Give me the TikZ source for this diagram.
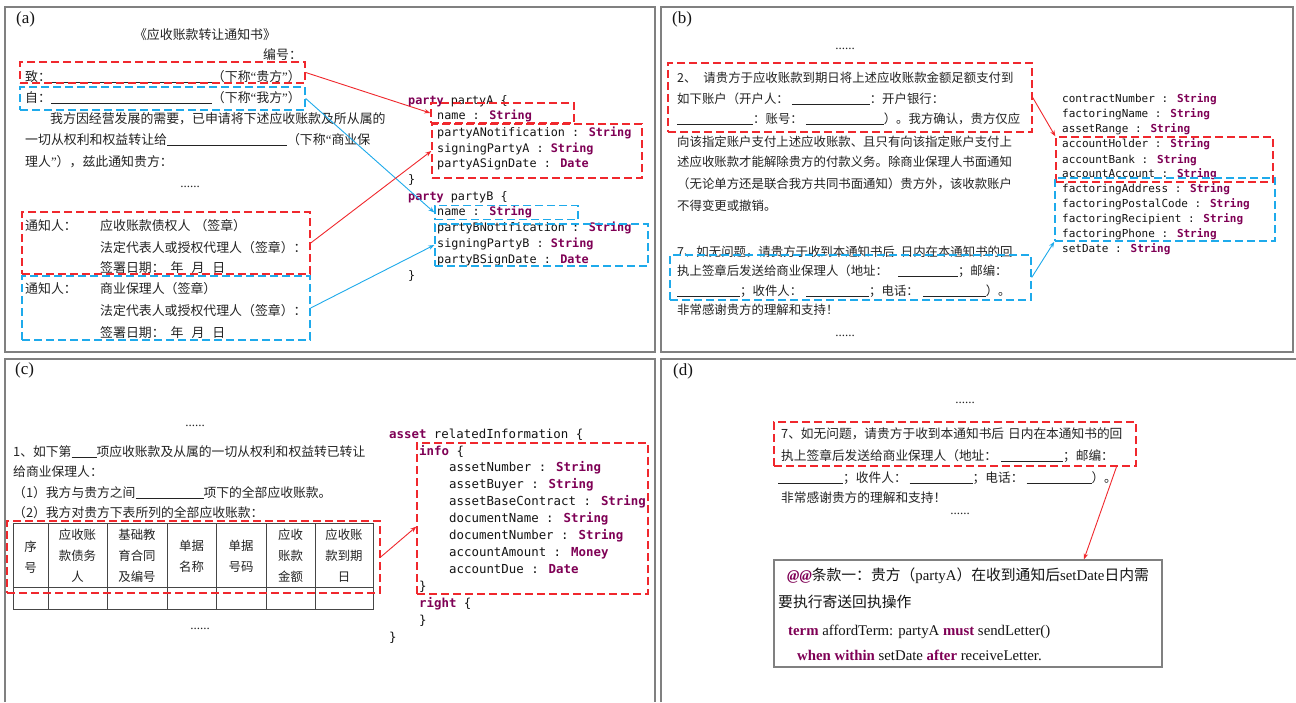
\documentclass[tikz,border=0pt]{standalone}
\usepackage{fontspec}
\setmainfont{Liberation Serif}
\newfontfamily\cjk{Noto Sans CJK SC}
\newfontfamily\monof{DejaVu Sans Mono}
\usetikzlibrary{arrows.meta}
\definecolor{myred}{RGB}{240,40,45}
\definecolor{myblue}{RGB}{30,170,235}
\definecolor{kwpurple}{RGB}{127,0,85}
\definecolor{panelgray}{RGB}{128,128,128}
\definecolor{txt}{RGB}{35,35,35}
\definecolor{codeblack}{RGB}{20,20,20}
\definecolor{tblgray}{RGB}{70,70,70}
\newcommand\kw[1]{\textcolor{kwpurple}{\bfseries #1}}
\newcommand\blank[1]{\rule[-1.5pt]{#1}{0.6pt}}
\newcommand\myqo{{\rmfamily “}}
\newcommand\myqc{{\rmfamily ”}}
\begin{document}
\begin{tikzpicture}[x=1pt,y=-1pt,
  panel/.style={draw=panelgray,line width=1.1pt},
  wh/.style 2 args={minimum width=#1pt,minimum height=#2pt},
  rbox/.style={draw=myred,line width=1.4pt,dash pattern=on 8pt off 4pt,inner sep=0pt,rectangle},
  bbox/.style={draw=myblue,line width=1.4pt,dash pattern=on 8pt off 4pt,inner sep=0pt,rectangle},
  rarr/.style={draw=myred,line width=0.9pt,-{Stealth[length=6pt,width=4.5pt]}},
  barr/.style={draw=myblue,line width=0.9pt,-{Stealth[length=6pt,width=4.5pt]}},
  cnA/.style={font=\cjk\fontsize{12.9}{21}\selectfont,text=txt,anchor=base west,inner sep=0pt},
  cnB/.style={font=\cjk\fontsize{12.4}{21}\selectfont,text=txt,anchor=base west,inner sep=0pt},
  cnC/.style={font=\cjk\fontsize{12.8}{21}\selectfont,text=txt,anchor=base west,inner sep=0pt},
  cnD/.style={font=\cjk\fontsize{12.7}{21}\selectfont,text=txt,anchor=base west,inner sep=0pt},
  th/.style={font=\cjk\fontsize{12.4}{21}\selectfont,text=txt,align=center,inner sep=0pt},
  codeA/.style={font=\monof\fontsize{11.8}{16}\selectfont,text=codeblack,anchor=base west,inner sep=0pt},
  codeB/.style={font=\monof\fontsize{11}{15}\selectfont,text=codeblack,anchor=base west,inner sep=0pt},
  codeC/.style={font=\monof\fontsize{12.4}{17}\selectfont,text=codeblack,anchor=base west,inner sep=0pt},
  dtext/.style={font=\rmfamily\fontsize{14.8}{18}\selectfont,text=codeblack,anchor=base west,inner sep=0pt},
  lbl/.style={font=\rmfamily\fontsize{17}{20}\selectfont,text=codeblack,anchor=west,inner sep=0pt},
  dots/.style={font=\rmfamily\fontsize{13}{14}\selectfont,text=txt,anchor=base,inner sep=0pt},
  tbl/.style={draw=tblgray,line width=0.9pt}
]
\fill[white] (0,0) rectangle (1296,702);
\useasboundingbox (0,0) rectangle (1296,702);

% ---------- panel frames ----------
\draw[panel] (5,7) rectangle (655,352);
\draw[panel] (661,7) rectangle (1293,352);
\draw[panel] (5,702) -- (5,359) -- (655,359) -- (655,702);
\draw[panel] (661,702) -- (661,359) -- (1296,359);

\node[lbl] (la) at (16,19) {(a)};
\node[lbl] (lb) at (672,19) {(b)};
\node[lbl] (lc) at (15,370) {(c)};
\node[lbl] (ld) at (673,371) {(d)};

% ================= panel (a) =================
\node[font=\cjk\fontsize{12.9}{21}\selectfont,text=txt,anchor=base,inner sep=0pt] (atitle) at (205,39) {《应收账款转让通知书》};
\node[cnA] (ano) at (263,59) {编号：};
\node[cnA] (ato) at (25,81) {致：\blank{161pt}（下称\myqo 贵方\myqc）};
\node[cnA] (afrom) at (25,102) {自：\blank{161pt}（下称\myqo 我方\myqc）};
\node[cnA] (ap1) at (50,123.5) {我方因经营发展的需要，已申请将下述应收账款及所从属的};
\node[cnA] (ap2) at (25,144) {一切从权利和权益转让给\blank{120pt}（下称\myqo 商业保};
\node[cnA] (ap3) at (25,166) {理人\myqc），兹此通知贵方：};
\node[dots] (adots) at (190,187) {......};

\node[cnA] (an1) at (25,230) {通知人：};
\node[cnA] (an1a) at (100,230) {应收账款债权人\hspace{4pt}（签章）};
\node[cnA] (an1b) at (100,252) {法定代表人或授权代理人（签章）：};
\node[cnA] (an1c) at (100,272) {签署日期：\hspace{6pt}年\hspace{8pt}月\hspace{8pt}日};
\node[cnA] (an2) at (25,293) {通知人：};
\node[cnA] (an2a) at (100,293) {商业保理人（签章）};
\node[cnA] (an2b) at (100,315) {法定代表人或授权代理人（签章）：};
\node[cnA] (an2c) at (100,337) {签署日期：\hspace{6pt}年\hspace{8pt}月\hspace{8pt}日};

\node[codeA] (pa)  at (408,104) {\kw{party} partyA \{};
\node[codeA] (pa1) at (437,119) {name : \kw{String}};
\node[codeA] (pa2) at (437,136) {partyANotification : \kw{String}};
\node[codeA] (pa3) at (437,152) {signingPartyA : \kw{String}};
\node[codeA] (pa4) at (437,167) {partyASignDate : \kw{Date}};
\node[codeA] (pa5) at (408,183) {\}};
\node[codeA] (pb)  at (408,200) {\kw{party} partyB \{};
\node[codeA] (pb1) at (437,215) {name : \kw{String}};
\node[codeA] (pb2) at (437,231) {partyBNotification : \kw{String}};
\node[codeA] (pb3) at (437,247) {signingPartyB : \kw{String}};
\node[codeA] (pb4) at (437,263) {partyBSignDate : \kw{Date}};
\node[codeA] (pb5) at (408,279) {\}};

\node[rbox,wh={285}{21}] (ra1) at (162.5,72.5) {};
\node[bbox,wh={285}{23}] (ba1) at (162.5,98.5) {};
\node[rbox,wh={288}{62}] (ra2) at (166,243) {};
\node[bbox,wh={288}{64}] (ba2) at (166,308) {};
\node[rbox,wh={143}{20}] (raName) at (502.5,113) {};
\node[rbox,wh={210}{54}] (raRest) at (537,151) {};
\node[bbox,wh={143}{14}] (baName) at (506.5,212.5) {};
\node[bbox,wh={213}{42}] (baRest) at (541.5,245) {};

\draw[rarr] (ra1.east) -- (raName.west);
\draw[barr] (ba1.east) -- (baName.west);
\draw[rarr] (ra2.east) -- (raRest.west);
\draw[barr] (ba2.east) -- (baRest.west);

% ================= panel (b) =================
\node[dots] (bdots1) at (845,49) {......};
\node[cnB] (b1) at (677,82) {2、\hspace{7pt}请贵方于应收账款到期日将上述应收账款金额足额支付到};
\node[cnB] (b2) at (677,103) {如下账户（开户人：\hspace{3pt}\blank{78pt}：开户银行：};
\node[cnB] (b3) at (677,123.5) {\blank{76pt}：账号：\hspace{3pt}\blank{78pt}）。我方确认，贵方仅应};
\node[cnB] (b4) at (677,146) {向该指定账户支付上述应收账款、且只有向该指定账户支付上};
\node[cnB] (b5) at (677,166) {述应收账款才能解除贵方的付款义务。除商业保理人书面通知};
\node[cnB] (b6) at (677,188) {（无论单方还是联合我方共同书面通知）贵方外，该收款账户};
\node[cnB] (b7) at (677,210) {不得变更或撤销。};
\node[cnB] (b8) at (677,256) {7、如无问题，请贵方于收到本通知书后\hspace{6pt}日内在本通知书的回};
\node[cnB] (b9) at (677,275) {执上签章后发送给商业保理人（地址：\hspace{10pt}\blank{60pt}；邮编：};
\node[cnB] (b10) at (677,295) {\blank{63pt}；收件人：\hspace{4pt}\blank{63pt}；电话：\hspace{4pt}\blank{63pt}）。};
\node[cnB] (b11) at (677,314) {非常感谢贵方的理解和支持！};
\node[dots] (bdots2) at (845,336) {......};

\node[codeB] (c1) at (1062,102) {contractNumber : \kw{String}};
\node[codeB] (c2) at (1062,117) {factoringName : \kw{String}};
\node[codeB] (c3) at (1062,132) {assetRange : \kw{String}};
\node[codeB] (c4) at (1062,147) {accountHolder : \kw{String}};
\node[codeB] (c5) at (1062,163) {accountBank : \kw{String}};
\node[codeB] (c6) at (1062,177) {accountAccount : \kw{String}};
\node[codeB] (c7) at (1062,192) {factoringAddress : \kw{String}};
\node[codeB] (c8) at (1062,207) {factoringPostalCode : \kw{String}};
\node[codeB] (c9) at (1062,222) {factoringRecipient : \kw{String}};
\node[codeB] (c10) at (1062,237) {factoringPhone : \kw{String}};
\node[codeB] (c11) at (1062,252) {setDate : \kw{String}};

\node[rbox,wh={364}{69}] (rb1) at (850,97.5) {};
\node[bbox,wh={361}{45}] (bb1) at (850.5,277.5) {};
\node[rbox,wh={217}{45}] (rb2) at (1164.5,159.5) {};
\node[bbox,wh={220}{63}] (bb2) at (1165,209.5) {};

\draw[rarr] (rb1.east) -- (rb2.north west);
\draw[barr] (bb1.east) -- (bb2.south west);

% ================= panel (c) =================
\node[dots] (cdots1) at (195,426) {......};
\node[cnC] (cl1) at (13,456) {1、如下第\blank{25pt}项应收账款及从属的一切从权利和权益转已转让};
\node[cnC] (cl2) at (13,476) {给商业保理人：};
\node[cnC] (cl3) at (13,497.5) {（1）我方与贵方之间\blank{68pt}项下的全部应收账款。};
\node[cnC] (cl4) at (13,517.5) {（2）我方对贵方下表所列的全部应收账款：};

\draw[tbl] (13,523) rectangle (373,609);
\draw[tbl] (13,587) -- (373,587);
\foreach \xx in {48,107,167,216,266,315} \draw[tbl] (\xx,523) -- (\xx,609);
\node[th] (h1) at (30.5,557) {序\\号};
\node[th] (h2) at (77.5,556) {应收账\\款债务\\人};
\node[th] (h3) at (137,556) {基础教\\育合同\\及编号};
\node[th] (h4) at (191.5,556) {单据\\名称};
\node[th] (h5) at (241,556) {单据\\号码};
\node[th] (h6) at (290.5,556) {应收\\账款\\金额};
\node[th] (h7) at (344,556) {应收账\\款到期\\日};
\node[dots] (cdots2) at (200,629) {......};

\node[codeC] (s1) at (389,438) {\kw{asset} relatedInformation \{};
\node[codeC] (s2) at (419,455) {\kw{info} \{};
\node[codeC] (s3) at (449,471) {assetNumber : \kw{String}};
\node[codeC] (s4) at (449,488) {assetBuyer : \kw{String}};
\node[codeC] (s5) at (449,505) {assetBaseContract : \kw{String}};
\node[codeC] (s6) at (449,522) {documentName : \kw{String}};
\node[codeC] (s7) at (449,539) {documentNumber : \kw{String}};
\node[codeC] (s8) at (449,556) {accountAmount : \kw{Money}};
\node[codeC] (s9) at (449,573) {accountDue : \kw{Date}};
\node[codeC] (s10) at (419,590) {\}};
\node[codeC] (s11) at (419,607) {\kw{right} \{};
\node[codeC] (s12) at (419,624) {\}};
\node[codeC] (s13) at (389,641) {\}};

\node[rbox,wh={373}{72}] (rc1) at (193.5,557) {};
\node[rbox,wh={231}{151}] (rc2) at (532.5,518.5) {};
\draw[rarr] (rc1.east) -- (rc2.184);

% ================= panel (d) =================
\node[dots] (ddots1) at (965,403) {......};
\node[cnD] (d1) at (781,438.5) {7、如无问题，请贵方于收到本通知书后\hspace{4pt}日内在本通知书的回};
\node[cnD] (d2) at (781,460.5) {执上签章后发送给商业保理人（地址：\hspace{4pt}\blank{62pt}；邮编：};
\node[cnD] (d3) at (778,482.5) {\blank{65pt}；收件人：\hspace{3pt}\blank{63pt}；电话：\hspace{3pt}\blank{65pt}）。};
\node[cnD] (d4) at (781,502.5) {非常感谢贵方的理解和支持！};
\node[dots] (ddots2) at (960,514) {......};
\node[rbox,wh={362}{44}] (rd1) at (955,444) {};

\node[draw=panelgray,line width=1.1pt,rectangle,inner sep=0pt,wh={388}{107}] (dbox) at (968,613.5) {};
\node[dtext] (e1) at (787,580) {\textcolor{kwpurple}{\bfseries\itshape @@}{\cjk 条款一：贵方（}partyA{\cjk ）在收到通知后}setDate{\cjk 日内需}};
\node[dtext] (e2) at (778,607) {{\cjk 要执行寄送回执操作}};
\node[dtext] (e3) at (788,635) {\kw{term} affordTerm: partyA \kw{must} sendLetter()};
\node[dtext] (e4) at (797,660) {\kw{when within} setDate \kw{after} receiveLetter.};

\draw[rarr] (rd1.352.3) -- (dbox.25);
\end{tikzpicture}
\end{document}
